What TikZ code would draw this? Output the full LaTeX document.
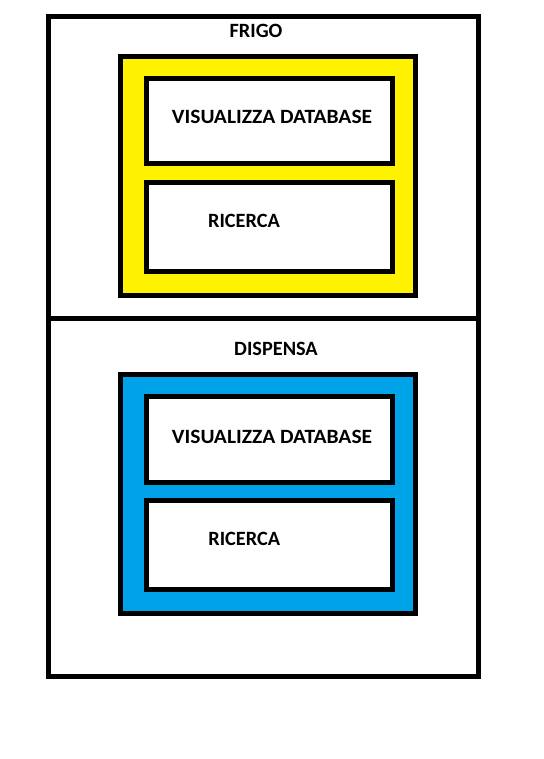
\documentclass[tikz,border=0pt]{standalone}
\usepackage{fontspec}
\setmainfont{Carlito}
\definecolor{fyellow}{RGB}{255,242,0}
\definecolor{fblue}{RGB}{0,162,232}
\begin{document}
\begin{tikzpicture}[x=1pt,y=-1pt,
  frame/.style={draw=black,line width=5pt},
  lbl/.style={anchor=base,inner sep=0pt,font=\bfseries\fontsize{20.3}{24}\selectfont}]
\useasboundingbox[fill=white] (0,0) rectangle (543,759);
% outer frame and divider
\draw[frame] (48.5,16.5) rectangle (478.5,676.5);
\draw[frame] (46,318) -- (478.5,318);
% FRIGO section
\draw[frame,fill=fyellow] (120,56.5) rectangle (415,295);
\draw[frame,fill=white] (146,78.5) rectangle (392,164);
\draw[frame,fill=white] (146,182.5) rectangle (392,271);
\node[lbl] (frigo) at (256,38) {FRIGO};
\node[lbl] (vis1) at (272,123.3) {\scalebox{1.06}[1]{VISUALIZZA DATABASE}};
\node[lbl] (ric1) at (244,227.3) {RICERCA};
% DISPENSA section
\draw[frame,fill=fblue] (120,374.5) rectangle (415,613);
\draw[frame,fill=white] (146,396.5) rectangle (392,482);
\draw[frame,fill=white] (146,500.5) rectangle (392,589);
\node[lbl] (disp) at (276,355.7) {DISPENSA};
\node[lbl] (vis2) at (272,443.3) {\scalebox{1.06}[1]{VISUALIZZA DATABASE}};
\node[lbl] (ric2) at (244.3,545.7) {RICERCA};
\end{tikzpicture}
\end{document}
